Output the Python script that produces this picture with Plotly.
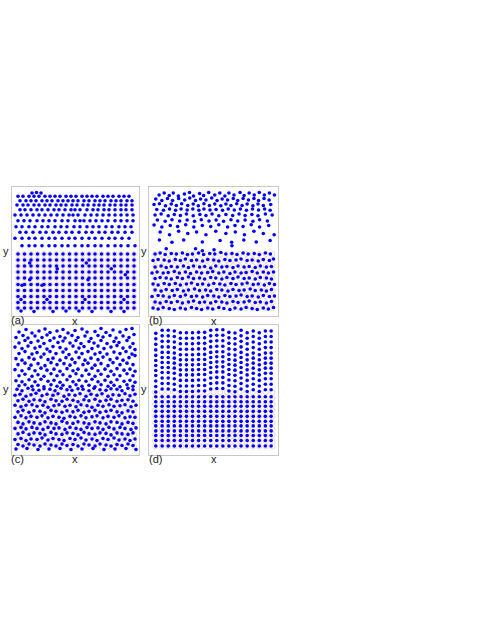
import plotly.graph_objects as go

# all coordinates are in frame pixels: x from the left edge, y from the top edge

# (a) top: hexagonal rows that get looser towards the interface
a_cap = [(20, 6), (24.5, 5.5), (29, 6)]
a_hex_y = [9.3, 13.7, 18, 22.7, 28, 33.7, 39.7, 45.3, 51.3, 58.7]
a_hex_x = [
    [6, 11, 17, 22, 27, 33, 38, 43, 48, 54, 59, 64, 70, 75, 80, 85, 91, 96, 101, 107, 112, 117],
    [8, 14, 19, 24, 30, 35, 40, 46, 51, 56, 61, 66, 72, 77, 83, 88, 93, 99, 104, 109, 115, 120],
    [5, 11, 16, 22, 27, 33, 38, 44, 49, 54, 60, 65, 71, 76, 82, 87, 92, 98, 103, 109, 114, 120],
    [8, 13, 19, 25, 30, 36, 42, 47, 53, 59, 63, 68, 75, 81, 86, 92, 97, 103, 109, 114, 120],
    [3, 9, 15, 21, 27, 33, 39, 45, 51, 57, 61, 66, 73, 79, 85, 91, 97, 103, 109, 115, 121],
    [6, 12, 18, 25, 31, 37, 43, 50, 56, 63, 68, 72, 78, 84, 90, 96, 103, 109, 115, 121],
    [4, 10, 17, 23, 30, 36, 43, 49, 55, 62, 68, 75, 81, 87, 94, 100, 107, 113, 119],
    [8, 14, 21, 28, 34, 41, 47, 54, 60, 67, 74, 80, 87, 93, 100, 106, 113, 120],
    [3, 10, 17, 23, 30, 37, 43, 50, 57, 63, 70, 77, 83, 90, 97, 103, 110, 117],
    [10, 17, 23, 30, 37, 43, 50, 56, 63, 70, 76, 83, 89, 96, 103, 109, 116, 123],
]

# square lattice in the lower half (also the pink reference sites of every panel)
lat_x = [6, 12.5, 19, 25.5, 32, 38, 44.5, 51, 57.5, 64, 70.5, 77, 83, 89.5, 96, 102.5, 109, 115.5, 122]
lat_y = [67, 73, 79, 85, 91, 97.5, 103.5, 109.5, 115.5, 121]

a_extra = [
    (17.7, 76), (45.3, 81.7), (74.3, 76), (99.3, 81.7), (113.3, 87.7), (17.7, 92.7),
    (10, 98.3), (30, 98.3), (76, 92.7),
    (9, 112.5), (35, 112.5), (73, 112.5), (112, 112.5),
    (9, 124), (22, 124.5), (41, 124.5), (54, 124), (67, 124),
    (80, 124.5), (99, 124.5), (112, 124.5),
]

# (b) loose fluid on top of a wavy, buckled lattice
b_top = [
    (10, 8), (15, 6), (20, 8.5), (24, 6), (29, 9), (35, 7), (40, 5.5), (44, 9), (50, 6.5), (54, 8.5),
    (59, 5.5), (65, 8), (70, 6), (75, 9), (79, 6), (84, 8), (90, 5.5), (94, 8.5), (99, 6), (104, 8),
    (109, 5.5), (114, 8), (119, 6), (124, 8),
    (6.7, 12), (12.7, 13.5), (18.3, 11.5), (23.3, 13.5), (29.3, 11.5), (35.3, 13), (40.3, 11),
    (46, 13.5), (51, 12), (56.3, 13), (62, 11), (67.3, 13.5), (72.3, 12), (77.7, 13), (83.3, 11.5),
    (87.7, 13.5), (93, 11.5), (98.3, 13), (103.7, 11.5), (108.3, 13.5), (113.7, 11.5), (118.7, 13),
    (5, 17.5), (10.3, 16.7), (16.3, 18.7), (22, 17), (27, 18.5), (32.3, 16.7), (38.3, 18.5),
    (43.7, 17), (48.7, 18.7), (54.3, 16.7), (59.7, 18.5), (65, 17), (71, 18.7), (76, 17),
    (81, 18.5), (86.7, 16.7), (92, 18.5), (97, 17), (102.7, 18.7), (107.7, 17), (113, 18.5), (120.3, 17.5),
    (7.7, 22.5), (14.3, 23.3), (20.3, 22), (26.3, 23.3), (31.7, 22), (37.7, 23), (43.3, 22),
    (49.3, 23.3), (54.3, 22), (60.3, 23), (66.3, 22.5), (72.7, 23.3), (78.3, 22), (84.3, 23),
    (90.3, 22), (96.3, 23.3), (102.3, 22), (108.3, 23), (114.3, 22), (119.7, 23.3),
    (6, 28), (12, 27), (19, 28.7), (25, 27.5), (31, 28.5), (37, 27), (43.7, 28.7), (50.3, 27.5),
    (56.3, 28.5), (62.3, 27), (69, 28.7), (76, 27.5), (82.7, 28.5), (89, 27), (95, 28.5),
    (101.7, 27.5), (107.7, 28.7), (115, 27), (121.7, 28),
    (8.3, 33), (16, 34.3), (22.7, 32.7), (30.3, 34), (37.7, 33), (45, 34.3), (51.7, 32.7),
    (59.3, 34), (66.3, 33), (73.7, 34.3), (81, 32.7), (87.7, 34), (95, 33), (102.7, 34.3),
    (109.3, 32.7), (117, 34),
    (5, 38), (12.7, 40), (21, 38.5), (28.3, 39.5), (36.3, 37.7), (44.3, 40), (52.7, 38.5),
    (61, 39.5), (69, 37.7), (77.7, 40), (85, 38.5), (93, 39.5), (101, 37.7), (109.3, 40), (118.3, 38.5),
    (11, 45), (20.3, 47.7), (29.3, 44.3), (38.3, 46.5), (47, 45), (56.3, 47.7), (66, 44.3),
    (76, 46.5), (85.3, 45), (94.3, 47.7), (103.7, 44.3), (113, 46.5), (123.7, 47.7),
    (10.3, 53), (22.7, 55.3), (34.3, 53), (52.7, 55), (70.3, 53.5), (81.7, 55.3), (93.7, 53),
    (106, 55), (119.7, 53.5),
    (17, 61.7), (46, 61.7), (52.7, 63.7), (64.3, 62.7), (82, 58.7),
]

b_low = [
    (6, 67), (11, 66), (16, 67.5), (22, 66.5), (27, 67), (33, 66), (38, 67.5), (43, 67), (49, 66),
    (54, 67.5), (60, 66.5), (65, 67), (71, 65.5), (76, 67), (82, 66.5), (87, 67.5), (93, 66),
    (98, 67), (104, 66.5), (109, 67.5), (115, 66), (120, 67),
    (4, 73.5), (9, 72.5), (15, 73), (20, 74), (26, 72.5), (31, 73.5), (36, 72), (42, 73.5), (47, 73),
    (53, 74), (58, 72.5), (64, 73), (69, 74), (75, 72.5), (80, 73.5), (86, 73), (91, 72),
    (97, 73.5), (102, 73), (108, 74), (113, 72.5), (119, 73.5), (123, 72),
    (6, 80), (12, 79), (17, 80.5), (22, 79.5), (28, 80), (34, 79), (39, 80.5), (44, 79), (50, 80),
    (55, 79.5), (61, 81), (66, 79), (72, 80), (77, 79.5), (83, 80.5), (88, 79), (94, 80),
    (99, 79.5), (105, 80.5), (110, 79), (116, 80), (121, 79.5),
    (3, 86), (8, 85), (14, 86), (19, 85.5), (25, 84.5), (30, 86), (36, 85), (41, 86.5), (47, 85),
    (52, 86), (58, 85.5), (63, 84.5), (69, 86), (74, 85), (80, 86.5), (85, 85), (91, 86),
    (96, 85.5), (102, 84.5), (107, 86), (113, 85), (118, 86), (123, 85),
    (6, 91.5), (11, 90.5), (17, 91), (22, 92), (28, 90.5), (33, 91.5), (39, 90), (44, 91.5), (50, 91),
    (55, 92), (61, 90.5), (66, 91), (72, 92), (77, 90.5), (83, 91.5), (88, 90), (94, 91.5),
    (99, 91), (105, 92), (110, 90.5), (116, 91), (121, 92),
    (4, 97), (9, 98), (15, 96.5), (20, 97.5), (26, 96.5), (31, 98), (37, 97), (42, 96), (48, 97.5),
    (53, 97), (59, 98), (64, 96.5), (70, 97), (75, 98), (81, 96.5), (86, 97.5), (92, 97),
    (97, 96), (103, 97.5), (108, 97), (114, 98), (119, 96.5), (124, 97.5),
    (6, 103), (12, 104), (17, 102.5), (23, 103.5), (28, 102.5), (34, 104), (39, 103), (45, 102),
    (50, 103.5), (56, 103), (61, 104), (67, 102.5), (72, 103), (78, 104), (83, 102.5), (89, 103.5),
    (94, 103), (100, 102), (105, 103.5), (111, 103), (116, 104), (121, 102.5),
    (3, 109.5), (9, 108.5), (14, 109), (20, 110), (25, 108.5), (31, 109.5), (36, 108), (42, 109.5),
    (47, 109), (53, 110), (58, 108.5), (64, 109), (69, 110), (75, 108.5), (80, 109.5), (86, 109),
    (91, 108), (97, 109.5), (102, 109), (108, 110), (113, 108.5), (119, 109.5), (124, 109),
    (6, 115), (11, 116), (17, 114.5), (22, 115.5), (28, 114.5), (33, 116), (39, 115), (44, 114),
    (50, 115.5), (55, 115), (61, 116), (66, 114.5), (72, 115), (77, 116), (83, 114.5), (88, 115.5),
    (94, 115), (99, 114), (105, 115.5), (110, 115), (116, 116), (121, 114.5),
    (4, 121), (9, 122), (14, 120.5), (20, 121.5), (25, 122.5), (31, 121), (36, 122), (42, 120.5),
    (47, 121.5), (52, 122.5), (58, 121), (63, 122), (69, 120.5), (74, 121.5), (80, 122.5), (85, 121),
    (91, 122), (96, 120.5), (102, 121.5), (107, 122.5), (113, 121), (118, 122), (123, 120.5),
]

# (c) amorphous packing everywhere
c_top = [
    (7, 7), (14, 4.5), (20, 8), (27, 6), (33, 4), (38, 7.5), (45, 6), (51, 4.5), (56, 8), (63, 5.5),
    (70, 4), (75, 7), (83, 6.5), (89, 3.5), (94, 7.5), (101, 5), (108, 7), (114, 4.5), (120, 3.5),
    (4, 12.5), (11, 10.5), (16, 13), (23, 11), (30, 12.5), (35, 10), (42, 13), (48, 11.5), (53, 13),
    (60, 10.5), (66, 12.5), (73, 11), (79, 13.5), (86, 10.5), (91, 12), (98, 10.5), (104, 13),
    (111, 11), (117, 12.5), (122, 9.5),
    (7, 18), (13, 15.5), (19, 17.5), (26, 16), (32, 18.5), (38, 15.5), (46, 17.5), (51, 16),
    (58, 18), (64, 15.5), (69, 18.5), (77, 16.5), (82, 18), (89, 15.5), (95, 18.5), (102, 16.5),
    (107, 17.5), (115, 15.5), (121, 18.5),
    (3, 22), (10, 23.5), (16, 21), (23, 23), (28, 21.5), (35, 24), (41, 21.5), (48, 22.5), (54, 24),
    (61, 21), (67, 23), (72, 21.5), (80, 23.5), (86, 21), (92, 23.5), (99, 22), (105, 20.5),
    (111, 23), (118, 22), (123, 24.5),
    (7, 28.5), (13, 26.5), (20, 29), (25, 27.5), (32, 29), (38, 26.5), (44, 28.5), (51, 27),
    (57, 29.5), (64, 27), (70, 28.5), (76, 26.5), (83, 29), (88, 27.5), (95, 29), (102, 27),
    (108, 28.5), (114, 26.5), (120, 29),
    (4, 33.5), (10, 35), (17, 32.5), (22, 34), (29, 32), (36, 34.5), (41, 33), (48, 35), (54, 32.5),
    (60, 34), (67, 32.5), (73, 35), (79, 33), (86, 34.5), (91, 32), (98, 34.5), (105, 33),
    (111, 35), (117, 32.5), (123, 30.5),
    (6, 39.5), (13, 38), (19, 40), (26, 38.5), (33, 40.5), (39, 37.5), (45, 39.5), (52, 38.5),
    (58, 40), (63, 37.5), (71, 39.5), (76, 38), (83, 40), (89, 38.5), (96, 40.5), (101, 37.5),
    (108, 39.5), (115, 38), (121, 39.5),
    (3, 44.5), (10, 45.5), (17, 43.5), (23, 45.5), (29, 43), (35, 45), (42, 44), (48, 46), (55, 43.5),
    (61, 45.5), (66, 44), (74, 45), (80, 43), (86, 45.5), (93, 44), (99, 46), (105, 43.5),
    (112, 45), (118, 44), (123, 46),
    (7, 50.5), (13, 49), (20, 51), (26, 49.5), (32, 51), (39, 48.5), (45, 50.5), (51, 49.5),
    (58, 51), (64, 48.5), (70, 50.5), (77, 49), (83, 51), (89, 49), (96, 51), (102, 49.5),
    (108, 50.5), (115, 48.5), (121, 50.5),
    (4, 55.5), (10, 56.5), (17, 54.5), (23, 56.5), (29, 54), (36, 56), (42, 55), (48, 57), (55, 54.5),
    (61, 56.5), (67, 55), (74, 56), (80, 54), (86, 56.5), (93, 55), (99, 57), (105, 54.5),
    (112, 56), (118, 55), (123, 57),
    (7, 60.5), (13, 59.5), (20, 61), (26, 60), (32, 61.5), (39, 59.5), (45, 61), (51, 60),
    (58, 61.5), (64, 59.5), (70, 61), (77, 60), (83, 61.5), (89, 59.5), (96, 61), (102, 60),
    (108, 61.5), (115, 59.5), (121, 61),
]

c_low = [
    (5, 64), (10, 65.5), (16, 63), (21, 64.5), (27, 65), (32, 63.5), (38, 64), (43, 65.5), (49, 63),
    (55, 64.5), (60, 65), (66, 63.5), (71, 64), (77, 65.5), (82, 63), (88, 64.5), (94, 65),
    (99, 63.5), (105, 64), (110, 65.5), (116, 63), (121, 64.5),
    (3, 70), (8, 69), (14, 71), (19, 69.5), (24, 68), (30, 70.5), (35, 69), (41, 70), (46, 68.5),
    (52, 71), (57, 69.5), (63, 70), (68, 68.5), (74, 71), (79, 69), (85, 70), (90, 68.5), (96, 71),
    (101, 69.5), (107, 70), (113, 68.5), (118, 70.5), (123, 69),
    (6, 75.5), (11, 74), (17, 76), (22, 74.5), (28, 75), (33, 76.5), (39, 74), (44, 75.5), (50, 76),
    (55, 74), (61, 75), (66, 76.5), (72, 74.5), (77, 75.5), (83, 74), (88, 76), (94, 75), (99, 74),
    (105, 76), (110, 75), (116, 74.5), (121, 76),
    (3, 80), (9, 81.5), (14, 80), (20, 79.5), (25, 81), (31, 80), (36, 82), (42, 80.5), (47, 79.5),
    (53, 81), (58, 80), (64, 81.5), (69, 79.5), (75, 80.5), (80, 82), (86, 80), (91, 81), (97, 79.5),
    (102, 81), (108, 80.5), (113, 79.5), (119, 81.5), (124, 80),
    (6, 86.5), (11, 85), (17, 87), (22, 85.5), (28, 86), (33, 87.5), (39, 85), (44, 86), (50, 87),
    (55, 85.5), (61, 86.5), (66, 85), (72, 87), (77, 86), (83, 85), (88, 87), (94, 86), (99, 85),
    (105, 86.5), (110, 87.5), (116, 85.5), (121, 86.5),
    (3, 92), (9, 90.5), (14, 92.5), (19, 91), (25, 92), (30, 90.5), (36, 92.5), (41, 91), (47, 92),
    (52, 93), (58, 91), (63, 92), (69, 90.5), (74, 92.5), (80, 91.5), (85, 90.5), (91, 92.5),
    (96, 91), (102, 92), (107, 90.5), (113, 92.5), (118, 91.5), (123, 92),
    (6, 97), (11, 98.5), (17, 96.5), (22, 97.5), (28, 98.5), (33, 96.5), (39, 97.5), (44, 98.5),
    (50, 96), (55, 97.5), (61, 98), (66, 96.5), (72, 97.5), (77, 98.5), (83, 96.5), (88, 97.5),
    (94, 98.5), (99, 96.5), (105, 97), (110, 98.5), (116, 97), (121, 98),
    (3, 103), (9, 102), (14, 103.5), (20, 102), (25, 103), (31, 104), (36, 102), (42, 103),
    (47, 102.5), (53, 104), (58, 102), (64, 103), (69, 104), (75, 102), (80, 103), (86, 102.5),
    (91, 104), (97, 102), (102, 103.5), (108, 102), (113, 103), (119, 104), (124, 102.5),
    (6, 108.5), (11, 107), (17, 109), (22, 107.5), (28, 108), (33, 109.5), (39, 107), (44, 108.5),
    (50, 109), (55, 107.5), (61, 108), (66, 109.5), (72, 107), (77, 108.5), (83, 109), (88, 107.5),
    (94, 108), (99, 109.5), (105, 107.5), (110, 108.5), (116, 109), (121, 107.5),
    (3, 114), (9, 113), (14, 115), (19, 113.5), (25, 114), (30, 112.5), (36, 114.5), (41, 113),
    (47, 114), (52, 115), (58, 113), (63, 114), (69, 112.5), (74, 114.5), (80, 113.5), (85, 115),
    (91, 113), (96, 114), (102, 112.5), (107, 114.5), (113, 113.5), (118, 115), (123, 113.5),
    (6, 119), (11, 120.5), (17, 118.5), (22, 119.5), (28, 120.5), (33, 118.5), (39, 119.5),
    (44, 120.5), (50, 118.5), (55, 120), (61, 119), (66, 120.5), (72, 118.5), (77, 119.5),
    (83, 120.5), (88, 118.5), (94, 119.5), (99, 120.5), (105, 119), (110, 120), (116, 118.5), (121, 120),
    (4, 123.5), (15, 123), (26, 124), (37, 123.5), (48, 123), (59, 124), (70, 123.5), (81, 123),
    (92, 124), (103, 123.5), (114, 123), (124, 124),
]

# (d) vertical columns
d_col_x = [6.7, 13, 19, 25, 31, 37, 43, 49, 55, 61, 67, 73, 79, 85, 91, 97, 103, 109, 115, 120.7]
d_col_top = [0.3, -2.7, -2.7, -2, -0.3, -0.3, -0.3, -0.7, -0.7, -2.7,
             -3.3, -3.3, -0.7, 0, -2.7, -0.3, -2, -0.3, -2, -2]
d_row_y = [8, 13.5, 19, 24.5, 30, 35, 40, 45, 50, 55.5, 61, 66.5, 71.5, 76.5, 81, 86,
           91, 96, 100.5, 105.5, 110, 115, 120.5]
d_upper_rows = 12

BLUE = '#0000ff'
RING = '#ecd6d6'

fig = go.Figure()

lat_pts = [(x, y) for y in lat_y for x in lat_x]
a_pts = list(a_cap)
for y, xs in zip(a_hex_y, a_hex_x):
    a_pts += [(x, y) for x in xs]
a_pts += lat_pts + a_extra

d_pts = []
for x, dy in zip(d_col_x, d_col_top):
    for j, y in enumerate(d_row_y):
        d_pts.append((x, y + dy if j < d_upper_rows else y))

panels = [
    ('x', 'y', a_pts),
    ('x2', 'y2', b_top + b_low),
    ('x3', 'y3', c_top + c_low),
    ('x4', 'y4', d_pts),
]

for xa, ya, pts in panels:
    fig.add_trace(go.Scatter(
        x=[p[0] for p in lat_pts], y=[p[1] for p in lat_pts],
        mode='markers', xaxis=xa, yaxis=ya, hoverinfo='skip',
        marker=dict(symbol='circle-open', size=5, color=RING, line=dict(width=1, color=RING)),
    ))
    fig.add_trace(go.Scatter(
        x=[p[0] for p in pts], y=[p[1] for p in pts],
        mode='markers', xaxis=xa, yaxis=ya,
        marker=dict(size=3.6, color=BLUE, line=dict(width=0)),
    ))

W, H = 485, 627
col_px = [(12, 139), (149, 277.5)]
row_px = [(187, 316), (325, 454.5)]

frame = dict(showticklabels=False, showgrid=False, zeroline=False, ticks='',
             showline=True, mirror=True, linecolor='#c8c8c8', linewidth=1)

layout_axes = {}
for i, (c, r) in enumerate([(0, 0), (1, 0), (0, 1), (1, 1)]):
    n = '' if i == 0 else str(i + 1)
    x0, x1 = col_px[c]
    y0, y1 = row_px[r]
    layout_axes['xaxis' + n] = dict(frame, domain=[x0 / W, x1 / W], range=[0, 127],
                                     anchor='y' + n)
    layout_axes['yaxis' + n] = dict(frame, domain=[1 - y1 / H, 1 - y0 / H], range=[129, 0],
                                     anchor='x' + n)

labels = [
    ('y', 6, 251), ('y', 143.5, 251), ('y', 6, 389), ('y', 143.5, 389),
    ('(a)', 17, 320), ('x', 75, 320.5), ('(b)', 155, 320), ('x', 214, 320.5),
    ('(c)', 17, 458.5), ('x', 75, 459), ('(d)', 155, 458.5), ('x', 214, 459),
]
annotations = [
    dict(text=t, x=px / W, y=1 - py / H, xref='paper', yref='paper', showarrow=False,
         xanchor='center', yanchor='middle', font=dict(size=11, color='#222'))
    for t, px, py in labels
]

fig.update_layout(
    width=W, height=H,
    margin=dict(l=0, r=0, t=0, b=0),
    paper_bgcolor='white', plot_bgcolor='white',
    showlegend=False,
    font=dict(family='Liberation Sans, Arial, sans-serif'),
    annotations=annotations,
    **layout_axes,
)

# drop the browser's default 8 px body margin so the figure sits at the page corner
fig.write_html("out.html", config={'displayModeBar': False},
               post_script="document.body.style.margin = '0px';")
